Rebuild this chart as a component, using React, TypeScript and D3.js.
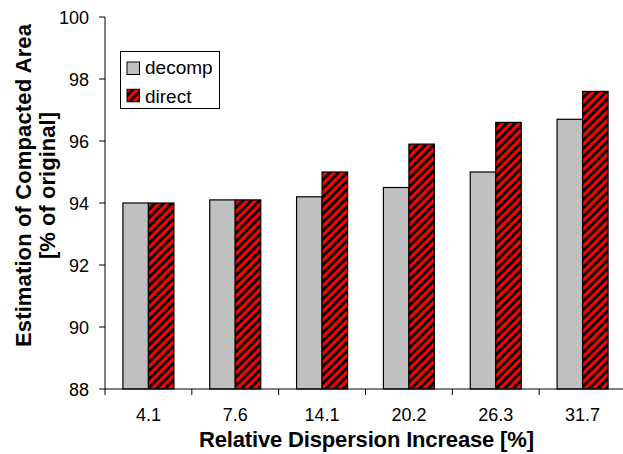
import React from "react";
import * as d3 from "d3";

// Relative dispersion increase categories (x axis)
const categories = ["4.1", "7.6", "14.1", "20.2", "26.3", "31.7"];
// Estimated compacted area, % of original
const decompValues = [94.0, 94.1, 94.2, 94.5, 95.0, 96.7];
const directValues = [94.0, 94.1, 95.0, 95.9, 96.6, 97.6];
const yTicks = [88, 90, 92, 94, 96, 98, 100];
const seriesNames = ["decomp", "direct"];

const W = 623;
const H = 454;
const margin = { left: 105, top: 17, right: -3, bottom: 65 };
const FONT = "'Liberation Sans', Arial, Helvetica, sans-serif";

export default function App() {
  const plotRight = W - margin.right;
  const plotBottom = H - margin.bottom;

  const x = d3.scaleBand<string>().domain(categories).range([margin.left, plotRight]).padding(0);
  const y = d3.scaleLinear().domain([88, 100]).range([plotBottom, margin.top]);
  const barW = 25.5;

  const bars = categories.flatMap((c, i) => {
    const cx = (x(c) ?? 0) + x.bandwidth() / 2;
    return [
      { key: `d-${c}`, x: cx - barW, v: decompValues[i], fill: "#c0c0c0" },
      { key: `r-${c}`, x: cx, v: directValues[i], fill: "url(#hatch)" },
    ];
  });

  const boundaries = d3.range(categories.length + 1).map((i) => margin.left + i * x.bandwidth());

  return (
    <svg
      width={W}
      height={H}
      style={{ position: "absolute", left: 0, top: 0, background: "#fff" }}
      fontFamily={FONT}
    >
      <defs>
        <pattern id="hatch" patternUnits="userSpaceOnUse" width="6" height="6" patternTransform="rotate(45)">
          <rect width="6" height="6" fill="#ff0000" />
          <rect x="0" y="0" width="2.8" height="6" fill="#000" />
        </pattern>
      </defs>

      {/* bars */}
      {bars.map((b) => (
        <rect
          key={b.key}
          x={b.x}
          y={y(b.v)}
          width={barW}
          height={plotBottom - y(b.v)}
          fill={b.fill}
          stroke="#000"
          strokeWidth={1.2}
        />
      ))}

      {/* y axis */}
      <line x1={margin.left} x2={margin.left} y1={margin.top} y2={plotBottom} stroke="#000" strokeWidth={1} />
      {yTicks.map((t) => (
        <g key={t}>
          <line x1={margin.left - 6} x2={margin.left} y1={y(t)} y2={y(t)} stroke="#000" />
          <text x={89} y={y(t) + 6.5} textAnchor="end" fontSize={18} fill="#000">
            {t}
          </text>
        </g>
      ))}

      {/* x axis */}
      <line x1={margin.left} x2={plotRight} y1={plotBottom} y2={plotBottom} stroke="#000" />
      {boundaries.map((bx, i) => (
        <line key={i} x1={bx} x2={bx} y1={plotBottom} y2={plotBottom + 6} stroke="#000" />
      ))}
      {categories.map((c) => (
        <text
          key={c}
          x={(x(c) ?? 0) + x.bandwidth() / 2}
          y={421}
          textAnchor="middle"
          fontSize={18}
          fill="#000"
        >
          {c}
        </text>
      ))}

      {/* axis titles */}
      <text
        x={366.5}
        y={447}
        textAnchor="middle"
        fontSize={22}
        fontWeight="bold"
        fill="#000"
        textLength={335}
        lengthAdjust="spacing"
      >
        Relative Dispersion Increase [%]
      </text>
      <g transform="translate(31,185.5) rotate(-90)">
        <text
          x={0}
          y={0}
          textAnchor="middle"
          fontSize={22}
          fontWeight="bold"
          fill="#000"
          textLength={323}
          lengthAdjust="spacing"
        >
          Estimation of Compacted Area
        </text>
        <text
          x={0}
          y={24}
          textAnchor="middle"
          fontSize={22}
          fontWeight="bold"
          fill="#000"
          textLength={147}
          lengthAdjust="spacing"
        >
          [% of original]
        </text>
      </g>

      {/* legend */}
      <rect x={120.5} y={51.5} width={99} height={57} fill="#fff" stroke="#000" strokeWidth={1} />
      {seriesNames.map((name, i) => (
        <g key={name}>
          <rect
            x={127}
            y={62 + i * 27.3}
            width={12.5}
            height={12.5}
            fill={i === 0 ? "#c0c0c0" : "url(#hatch)"}
            stroke="#000"
            strokeWidth={1}
          />
          <text x={145} y={74 + i * 28.5} fontSize={19} fill="#000">
            {name}
          </text>
        </g>
      ))}
    </svg>
  );
}
